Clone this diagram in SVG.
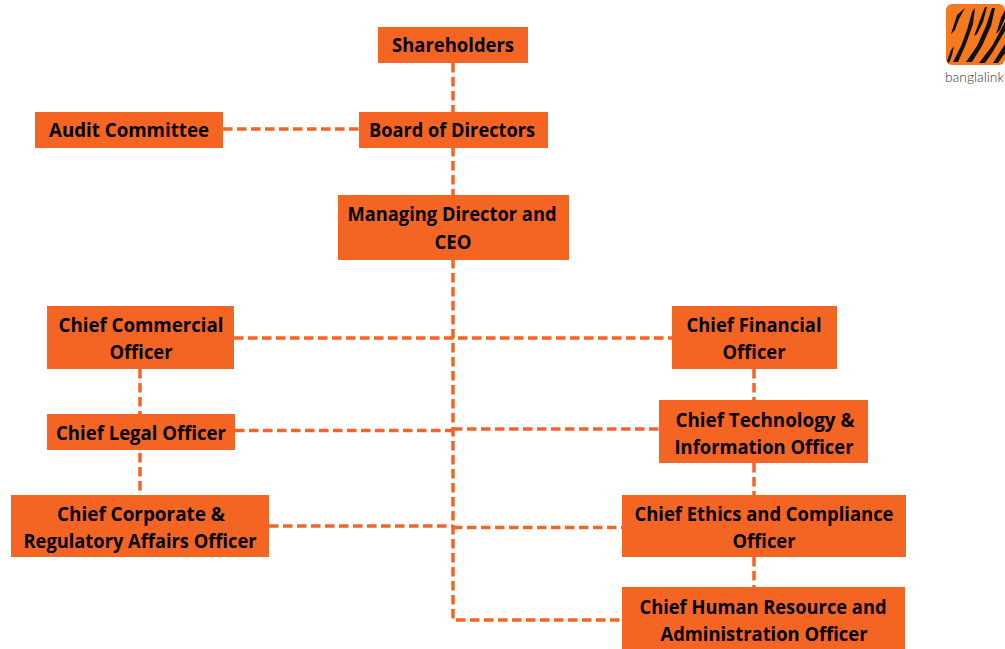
<svg xmlns="http://www.w3.org/2000/svg" width="1005" height="649" viewBox="0 0 1005 649">
<style>
.n{fill:#f46523}
.t{font-family:"Open Sans","Liberation Sans",sans-serif;font-weight:700;font-size:19px;fill:#000;text-anchor:middle}
.c{fill:none;stroke:#f46523;stroke-width:3.500;stroke-dasharray:9.500 4.500}
.s{fill:#111}
</style>
<rect width="1005" height="649" fill="#fff"/>
<g id="connectors">
<path class="c" d="M453 63V620H622"/>
<path class="c" d="M223 129H359"/>
<path class="c" d="M234 338H672"/>
<path class="c" d="M235 430.500H453"/>
<path class="c" d="M453 429H659"/>
<path class="c" d="M269 526H453"/>
<path class="c" d="M453 527.500H622"/>
<path class="c" d="M140 369V495"/>
<path class="c" d="M754 369V400"/>
<path class="c" d="M754 463V495"/>
<path class="c" d="M754 557V587"/>
</g>
<g id="shareholders"><rect class="n" x="378" y="27" width="150" height="36"/><text class="t" x="453" y="52" textLength="122" lengthAdjust="spacingAndGlyphs">Shareholders</text></g>
<g id="board"><rect class="n" x="359" y="112" width="189" height="36"/><text class="t" x="452" y="137" textLength="166" lengthAdjust="spacingAndGlyphs">Board of Directors</text></g>
<g id="audit"><rect class="n" x="35" y="112" width="188" height="36"/><text class="t" x="129" y="137" textLength="160" lengthAdjust="spacingAndGlyphs">Audit Committee</text></g>
<g id="ceo"><rect class="n" x="338" y="195" width="231" height="65"/><text class="t" x="452" y="221" textLength="209" lengthAdjust="spacingAndGlyphs">Managing Director and</text><text class="t" x="453" y="249" textLength="37" lengthAdjust="spacingAndGlyphs">CEO</text></g>
<g id="cco"><rect class="n" x="47" y="306" width="187" height="63"/><text class="t" x="141" y="332" textLength="165" lengthAdjust="spacingAndGlyphs">Chief Commercial</text><text class="t" x="141" y="359" textLength="63" lengthAdjust="spacingAndGlyphs">Officer</text></g>
<g id="clo"><rect class="n" x="47" y="414" width="188" height="36"/><text class="t" x="141" y="440" textLength="170" lengthAdjust="spacingAndGlyphs">Chief Legal Officer</text></g>
<g id="ccra"><rect class="n" x="11" y="495" width="258" height="62"/><text class="t" x="141" y="521" textLength="168" lengthAdjust="spacingAndGlyphs">Chief Corporate &amp;</text><text class="t" x="140" y="548" textLength="233" lengthAdjust="spacingAndGlyphs">Regulatory Affairs Officer</text></g>
<g id="cfo"><rect class="n" x="672" y="306" width="165" height="63"/><text class="t" x="754" y="332" textLength="135" lengthAdjust="spacingAndGlyphs">Chief Financial</text><text class="t" x="754" y="359" textLength="63" lengthAdjust="spacingAndGlyphs">Officer</text></g>
<g id="ctio"><rect class="n" x="659" y="400" width="209" height="63"/><text class="t" x="765" y="427" textLength="179" lengthAdjust="spacingAndGlyphs">Chief Technology &amp;</text><text class="t" x="764" y="454" textLength="179" lengthAdjust="spacingAndGlyphs">Information Officer</text></g>
<g id="ceco"><rect class="n" x="622" y="495" width="284" height="62"/><text class="t" x="764" y="521" textLength="259" lengthAdjust="spacingAndGlyphs">Chief Ethics and Compliance</text><text class="t" x="764" y="548" textLength="63" lengthAdjust="spacingAndGlyphs">Officer</text></g>
<g id="chro"><rect class="n" x="622" y="587" width="283" height="62"/><text class="t" x="763" y="614" textLength="247" lengthAdjust="spacingAndGlyphs">Chief Human Resource and</text><text class="t" x="764" y="641" textLength="207" lengthAdjust="spacingAndGlyphs">Administration Officer</text></g>
<g id="logo">
<rect x="946" y="4" width="59" height="61" rx="6" fill="#f5791f"/>
<path class="s" d="M951 34L957 15L965 8L959 19L955 30Z"/>
<path class="s" d="M953 62L961 46L967 30L972 12L975 8L973 24L966 44L958 62Z"/>
<path class="s" d="M966 62L977 46L986 26L992 8L995 8L991 26L982 46L972 62Z"/>
<path class="s" d="M979 63L992 46L1005 22V31L992 53L985 63Z"/>
<path class="s" d="M993 63L1005 44V53L998 63Z"/>
<path class="s" d="M974 36L980 20L985 7L987 7L983 22L977 34Z"/>
<path class="s" d="M996 34L1001 18L1005 10V18L1000 30Z"/>
<path class="s" d="M947 61L951 50L954 46L952 55L949 63Z"/>
<text x="945" y="82" font-family="Lato,'Liberation Sans',sans-serif" font-weight="300" font-size="14px" fill="#333" textLength="59" lengthAdjust="spacingAndGlyphs">banglalink</text>
</g>
</svg>
